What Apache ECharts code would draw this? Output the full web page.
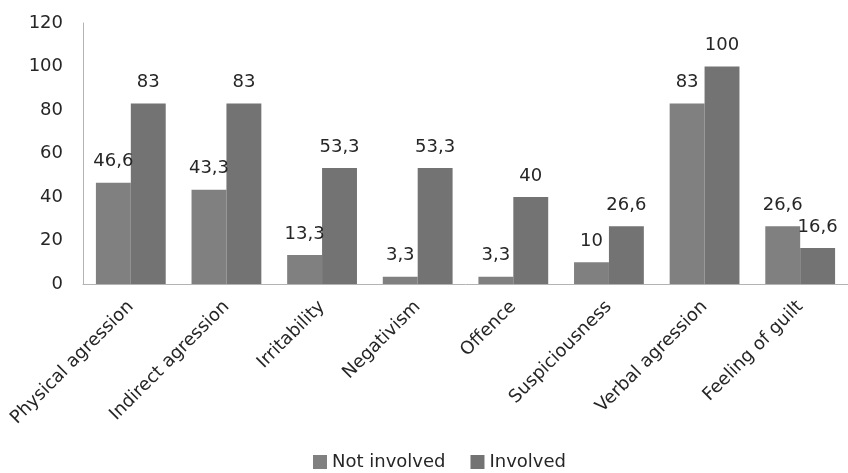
<!DOCTYPE html>
<html>
<head>
<meta charset="utf-8">
<script src="https://cdn.jsdelivr.net/npm/echarts@6/dist/echarts.min.js"></script>
<style>html,body{margin:0;padding:0;background:#fff;}#c{width:848px;height:473px;}</style>
</head>
<body>
<div id="c"></div>
<script>
var categories = ['Physical agression','Indirect agression','Irritability','Negativism','Offence','Suspiciousness','Verbal agression','Feeling of guilt'];
var notInvolved = [46.6, 43.3, 13.3, 3.3, 3.3, 10, 83, 26.6];
var involved = [83, 83, 53.3, 53.3, 40, 26.6, 100, 16.6];
var yTicks = [0, 20, 40, 60, 80, 100, 120];

var font = "'DejaVu Sans', sans-serif";
var fmt = function (p) { return String(p.value).replace('.', ','); };
var chart = echarts.init(document.getElementById('c'), null, {renderer: 'canvas'});
chart.setOption({
  animation: false,
  textStyle: {fontFamily: font},
  grid: {left: 83, top: 23, width: 767, height: 261, containLabel: false},
  legend: {
    top: 448, left: 308,
    itemWidth: 14, itemHeight: 14, itemGap: 25,
    icon: 'rect',
    textStyle: {fontSize: 18, color: '#262626', fontFamily: font},
    data: ['Not involved', 'Involved']
  },
  xAxis: {
    type: 'category',
    data: categories,
    axisLine: {lineStyle: {color: '#b3b3b3', width: 1}},
    axisTick: {show: false},
    axisLabel: {rotate: 45, fontSize: 18, color: '#262626', margin: 20, fontFamily: font, interval: 0}
  },
  yAxis: {
    type: 'value',
    min: yTicks[0], max: yTicks[yTicks.length - 1], interval: 20,
    axisLine: {show: true, lineStyle: {color: '#b3b3b3', width: 1}},
    axisTick: {show: false},
    splitLine: {show: false},
    axisLabel: {fontSize: 18, color: '#262626', margin: 20, fontFamily: font}
  },
  series: [
    {
      name: 'Not involved', type: 'bar', data: notInvolved,
      barGap: '0%', barCategoryGap: '27%',
      itemStyle: {color: '#808080'},
      label: {show: true, position: 'top', distance: 12, fontSize: 18, color: '#262626', fontFamily: font, formatter: fmt}
    },
    {
      name: 'Involved', type: 'bar', data: involved,
      barGap: '0%', barCategoryGap: '27%',
      itemStyle: {color: '#737373'},
      label: {show: true, position: 'top', distance: 12, fontSize: 18, color: '#262626', fontFamily: font, formatter: fmt}
    }
  ]
});
</script>
</body>
</html>
